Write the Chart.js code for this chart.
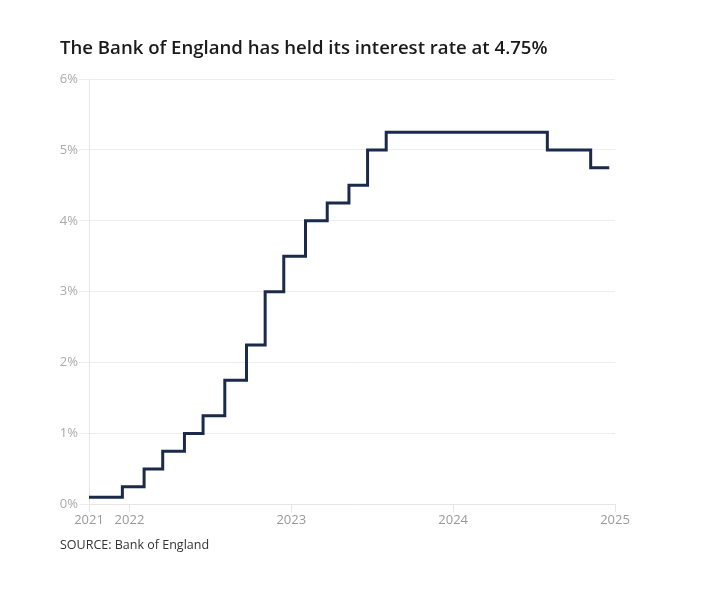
<!DOCTYPE html>
<html>
<head>
<meta charset="utf-8">
<script src="https://cdn.jsdelivr.net/npm/chart.js@4"></script>
<style>
html,body{margin:0;padding:0;background:#fff;}
#wrap{position:relative;width:710px;height:593px;}
</style>
</head>
<body>
<div id="wrap"><canvas id="c" width="710" height="593"></canvas></div>
<script>
// Dates on which the Bank Rate changed (first = start of chart, last = end of chart)
const changeDates = ['2021-10-01','2021-12-16','2022-02-03','2022-03-17','2022-05-05','2022-06-16','2022-08-04','2022-09-22','2022-11-03','2022-12-15','2023-02-02','2023-03-23','2023-05-11','2023-06-22','2023-08-03','2024-08-01','2024-11-07','2024-12-19'];
const rates = [0.1,0.25,0.5,0.75,1,1.25,1.75,2.25,3,3.5,4,4.25,4.5,5,5.25,5,4.75,4.75];
const xTickValues = [2021.75, 2022, 2023, 2024, 2025];
const xTickLabels = ['2021','2022','2023','2024','2025'];
const yTickLabels = ['0%','1%','2%','3%','4%','5%','6%'];
const titleText = 'The Bank of England has held its interest rate at 4.75%';
const sourceText = 'SOURCE: Bank of England';

function toYear(s){
  const d = new Date(s + 'T00:00:00Z');
  const y = d.getUTCFullYear();
  const start = Date.UTC(y,0,1), end = Date.UTC(y+1,0,1);
  return y + (d.getTime()-start)/(end-start);
}
const points = changeDates.map((d,i)=>({x: toYear(d), y: rates[i]}));

const FONT = '"Open Sans", sans-serif';
new Chart(document.getElementById('c'), {
  type: 'line',
  data: { datasets: [{
    data: points,
    stepped: 'before',
    borderColor: '#1b2a4a',
    borderWidth: 3,
    pointRadius: 0,
    fill: false
  }]},
  options: {
    responsive: false,
    animation: false,
    layout: { padding: { left: 60, right: 95, top: 38, bottom: 40 } },
    plugins: {
      legend: { display: false },
      tooltip: { enabled: false },
      title: {
        display: true, text: titleText, align: 'start',
        color: '#1a1a1a',
        font: { family: FONT, size: 18.6, weight: '600' },
        padding: { top: 0, bottom: 18.7 }
      },
      subtitle: {
        display: true, text: sourceText, align: 'start', position: 'bottom',
        color: '#333',
        font: { family: FONT, size: 12.5 },
        padding: { top: 10, bottom: 0 }
      }
    },
    scales: {
      x: {
        type: 'linear', min: 2021.75, max: 2025,
        afterBuildTicks: s => { s.ticks = xTickValues.map(v => ({ value: v })); },
        ticks: {
          autoSkip: false, maxRotation: 0, padding: 0,
          color: '#999', font: { family: FONT, size: 13 },
          callback: (v, i) => xTickLabels[i]
        },
        grid: { drawOnChartArea: false, drawTicks: true, tickLength: 8, color: '#e6e6e6' },
        border: { display: true, color: '#e6e6e6' }
      },
      y: {
        min: 0, max: 6,
        afterFit: s => { s.width = 29; },
        ticks: {
          stepSize: 1, padding: 1,
          color: '#aaa', font: { family: FONT, size: 13 },
          callback: (v) => yTickLabels[Math.round(v)]
        },
        grid: { color: '#ededed', tickLength: 10, drawTicks: true },
        border: { display: true, color: '#e6e6e6' }
      }
    }
  }
});
</script>
</body>
</html>
